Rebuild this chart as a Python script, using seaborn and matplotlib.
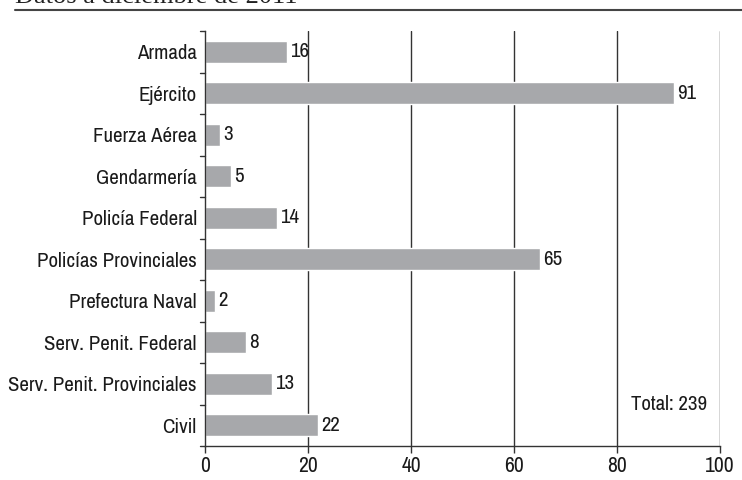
import matplotlib
matplotlib.use("Agg")
import matplotlib.pyplot as plt
import seaborn as sns
import pandas as pd
from matplotlib.lines import Line2D
from matplotlib import font_manager

categorias = ["Armada", "Ejército", "Fuerza Aérea", "Gendarmería", "Policía Federal",
              "Policías Provinciales", "Prefectura Naval", "Serv. Penit. Federal",
              "Serv. Penit. Provinciales", "Civil"]
valores = [16, 91, 3, 5, 14, 65, 2, 8, 13, 22]
x_ticks = [0, 20, 40, 60, 80, 100]
subtitulo = "Datos a diciembre de 2011"
total_txt = "Total: 239"

# look for a condensed face, the reference uses a narrow grotesque
condensed = sorted({f.name for f in font_manager.fontManager.ttflist
                    if "Narrow" in f.name or "Condensed" in f.name})
print("condensed fonts:", condensed)

sns.set_theme(style="white")
if condensed:
    plt.rcParams["font.family"] = [condensed[0], "Liberation Sans", "DejaVu Sans"]
    fs = 15
else:
    plt.rcParams["font.family"] = ["Liberation Sans", "DejaVu Sans"]
    fs = 13.5

df = pd.DataFrame({"categoria": categorias, "valor": valores})

fig = plt.figure(figsize=(7.42, 4.80), dpi=100)
ax = fig.add_axes([205 / 742, 1 - 446 / 480, (720 - 205) / 742, (446 - 31) / 480])

sns.barplot(data=df, x="valor", y="categoria", color="#a7a8ab", saturation=1,
            width=0.53, ax=ax)

ax.set_xlim(0, 100)
ax.set_ylim(len(categorias) - 0.5, -0.5)
ax.set_xticks(x_ticks)
ax.set_xticklabels([str(t) for t in x_ticks], fontsize=fs + 0.5)
ax.set_xlabel("")
ax.set_ylabel("")
ax.tick_params(axis="y", labelsize=fs, length=0, pad=6, labelcolor="#1a1a1a")
ax.tick_params(axis="x", length=5, width=1, color="#333333", direction="out", pad=2,
               bottom=True, labelcolor="#1a1a1a")

# vertical grid
for t in x_ticks[1:]:
    ax.axvline(t, color="#333333", lw=1, zorder=0)

# boundary ticks on the left spine
for b in range(len(categorias) + 1):
    ax.add_line(Line2D([-1.0, 0], [b - 0.5, b - 0.5], color="#333333", lw=1,
                       clip_on=False))

for s in ["top", "right"]:
    ax.spines[s].set_visible(False)
for s in ["left", "bottom"]:
    ax.spines[s].set_color("#333333")
    ax.spines[s].set_linewidth(1)

for i, v in enumerate(valores):
    ax.text(v + 0.6, i, str(v), va="center", ha="left", fontsize=fs, color="#1a1a1a")

ax.text(97.5, 8.5, total_txt, ha="right", va="center", fontsize=fs, color="#1a1a1a")

fig.text(15 / 742, 1 - 3 / 480, subtitulo, family="Liberation Serif", fontsize=19,
         color="#222222", va="baseline", ha="left")
fig.add_artist(Line2D([15 / 742, 1.0], [1 - 10 / 480, 1 - 10 / 480], color="#444444",
                      lw=1.5, transform=fig.transFigure))

fig.savefig("out.png", dpi=100)
